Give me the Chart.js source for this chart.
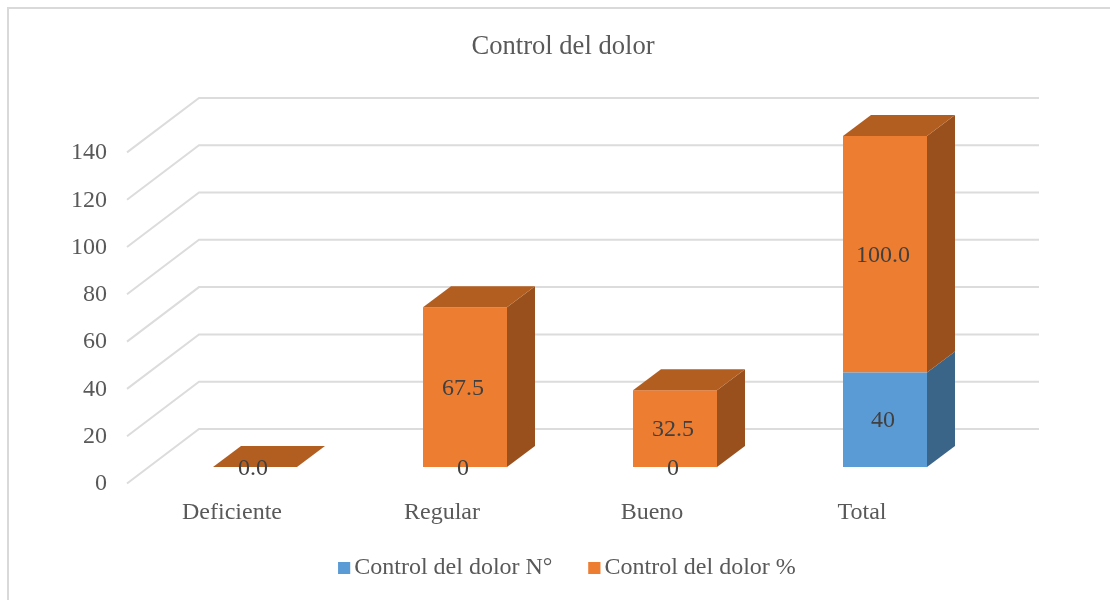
<!DOCTYPE html>
<html>
<head>
<meta charset="utf-8">
<title>Control del dolor</title>
<script src="https://cdn.jsdelivr.net/npm/chart.js@4/dist/chart.umd.min.js"></script>
<style>
    html, body { margin: 0; padding: 0; width: 1110px; height: 600px; overflow: hidden; background: #fff; }
    #frame { position: absolute; left: 7px; top: 7px; width: 1200px; height: 700px; border-left: 2px solid #d9d9d9; border-top: 2px solid #d9d9d9; }
    #chart { display: block; }
</style>
</head>
<body>
<div id="frame"><canvas id="chart" width="1108" height="581"></canvas></div>
<script>
const categories = ['Deficiente', 'Regular', 'Bueno', 'Total'];
const seriesCount = [null, 0, 0, 40];
const seriesPercent = [0, 67.5, 32.5, 100];
const countLabels = ['', '0', '0', '40'];
const percentLabels = ['0.0', '67.5', '32.5', '100.0'];
const yTicks = [0, 20, 40, 60, 80, 100, 120, 140];

const FONT = '"Liberation Serif", "Times New Roman", serif';
const DEPTH_X = 28, DEPTH_Y = 21;

function polygon(ctx, points, color) {
    ctx.fillStyle = color;
    ctx.beginPath();
    points.forEach((p, i) => i ? ctx.lineTo(p[0], p[1]) : ctx.moveTo(p[0], p[1]));
    ctx.closePath();
    ctx.fill();
}

// Parois du graphique: lignes diagonales + lignes du fond
const wallPlugin = {
    id: 'wall',
    afterLayout(chart) {
        // les étiquettes de l'axe x débordent un peu sur la légende
        chart.scales.x.bottom += 12;
        // légende un peu à droite du centre, comme dans l'original
        chart.legend.left += 4;
        chart.legend.right += 4;
    },
    beforeDatasetsDraw(chart) {
        const { ctx, chartArea, scales } = chart;
        ctx.save();
        ctx.strokeStyle = '#dcdcdc';
        ctx.lineWidth = 2;
        scales.y.ticks.forEach(tick => {
            const y = scales.y.getPixelForValue(tick.value);
            ctx.beginPath();
            ctx.moveTo(chartArea.left - 23, y + 16.5);
            ctx.lineTo(chartArea.left + 49, y - 38);
            ctx.lineTo(chartArea.right + 49, y - 38);
            ctx.stroke();
        });
        ctx.restore();
    }
};

// Faces latérale et supérieure des barres
const boxPlugin = {
    id: 'box',
    afterDatasetsDraw(chart) {
        const { ctx } = chart;
        ctx.save();
        chart.data.datasets.forEach((ds, d) => {
            chart.getDatasetMeta(d).data.forEach((bar, i) => {
                if (ds.data[i] === null) return;
                const right = bar.x + bar.width / 2, left = bar.x - bar.width / 2;
                const top = bar.y, bottom = bar.base;
                if (bottom - top > 0) {
                    polygon(ctx, [[right, top], [right + DEPTH_X, top - DEPTH_Y],
                        [right + DEPTH_X, bottom - DEPTH_Y], [right, bottom]], ds.sideColor);
                }
                if (d === chart.data.datasets.length - 1) {
                    polygon(ctx, [[left, top], [left + DEPTH_X, top - DEPTH_Y],
                        [right + DEPTH_X, top - DEPTH_Y], [right, top]], ds.topColor);
                }
            });
        });
        // Étiquettes de valeurs
        ctx.font = '24px ' + FONT;
        ctx.fillStyle = '#404040';
        ctx.textAlign = 'center';
        ctx.textBaseline = 'middle';
        chart.data.datasets.forEach((ds, d) => {
            chart.getDatasetMeta(d).data.forEach((bar, i) => {
                if (ds.data[i] === null) return;
                ctx.fillText(ds.valueLabels[i], bar.x - 2, (bar.y + bar.base) / 2 + 1.5);
            });
        });
        ctx.restore();
    }
};

// Carrés de la légende, plus larges que la boîte réservée par Chart.js
const legendSquares = {
    id: 'legendSquares',
    afterDraw(chart) {
        const { ctx, legend } = chart;
        ctx.save();
        legend.legendItems.forEach((item, i) => {
            const box = legend.legendHitBoxes[i];
            ctx.fillStyle = item.fillStyle;
            ctx.fillRect(box.left, box.top + 6, 12, 12);
        });
        ctx.restore();
    }
};

new Chart(document.getElementById('chart').getContext('2d'), {
    type: 'bar',
    data: {
        labels: categories,
        datasets: [
            {
                label: 'Control del dolor N°',
                data: seriesCount,
                backgroundColor: '#5b9bd5',
                sideColor: '#3a6588',
                topColor: '#4a7fae',
                valueLabels: countLabels
            },
            {
                label: 'Control del dolor %',
                data: seriesPercent,
                backgroundColor: '#ed7d31',
                sideColor: '#9a501c',
                topColor: '#b35e21',
                valueLabels: percentLabels
            }
        ]
    },
    options: {
        responsive: false,
        animation: false,
        devicePixelRatio: 1,
        categoryPercentage: 0.4,
        barPercentage: 1,
        plugins: {
            title: {
                display: true,
                text: 'Control del dolor',
                color: '#595959',
                font: { family: FONT, size: 26.6, weight: 'normal' },
                padding: { top: 22, bottom: 73 }
            },
            legend: {
                position: 'bottom',
                labels: {
                    boxWidth: 4,
                    boxHeight: 12,
                    padding: 36,
                    color: '#595959',
                    font: { family: FONT, size: 24 }
                }
            },
            tooltip: { enabled: false }
        },
        scales: {
            x: {
                stacked: true,
                grid: { display: false, drawTicks: false },
                border: { display: false },
                afterFit(scale) { scale.height = 53; },
                ticks: {
                    color: '#595959',
                    font: { family: FONT, size: 24 },
                    padding: 31,
                    labelOffset: -23,
                    maxRotation: 0,
                    autoSkip: false
                }
            },
            y: {
                stacked: true,
                min: 0,
                max: 140,
                afterBuildTicks(scale) { scale.ticks = yTicks.map(v => ({ value: v })); },
                grid: { display: false, drawTicks: false },
                border: { display: false },
                afterFit(scale) { scale.width = 141; },
                ticks: {
                    color: '#595959',
                    font: { family: FONT, size: 24 },
                    padding: 43,
                    labelOffset: 17
                }
            },
            // axe vide: réserve la marge de droite sans décentrer titre et légende
            rightMargin: {
                position: 'right',
                grid: { display: false, drawTicks: false },
                border: { display: false },
                ticks: { display: false },
                afterFit(scale) { scale.width = 127; }
            }
        }
    },
    plugins: [wallPlugin, boxPlugin, legendSquares]
});
</script>
</body>
</html>
